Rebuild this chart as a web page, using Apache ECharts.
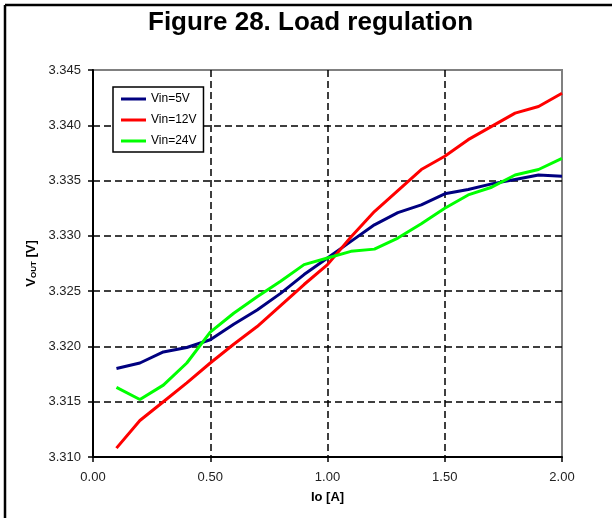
<!DOCTYPE html>
<html>
<head>
<meta charset="utf-8">
<script src="https://cdn.jsdelivr.net/npm/echarts@6/dist/echarts.min.js"></script>
<style>
  html, body { margin: 0; padding: 0; background: #fff; }
  #chart { width: 612px; height: 518px; }
</style>
</head>
<body>
<div id="chart"></div>
<script>
// load current (A)
const current = [0.1, 0.2, 0.3, 0.4, 0.5, 0.6, 0.7, 0.8, 0.9, 1.0,
                 1.1, 1.2, 1.3, 1.4, 1.5, 1.6, 1.7, 1.8, 1.9, 2.0]

// output voltage (V) per input voltage
const vin5 = [3.3180, 3.3185, 3.3195, 3.3199, 3.3206, 3.3220, 3.3233, 3.3248, 3.3265, 3.3280,
              3.3295, 3.3310, 3.3321, 3.3328, 3.3338, 3.3342, 3.3347, 3.3351, 3.3355, 3.3354]
const vin12 = [3.3108, 3.3133, 3.3150, 3.3167, 3.3185, 3.3202, 3.3218, 3.3237, 3.3256, 3.3274,
               3.3299, 3.3322, 3.3341, 3.3360, 3.3372, 3.3387, 3.3399, 3.3411, 3.3417, 3.3429]
const vin24 = [3.3163, 3.3152, 3.3165, 3.3185, 3.3213, 3.3230, 3.3245, 3.3259, 3.3274, 3.3280,
               3.3286, 3.3288, 3.3298, 3.3311, 3.3325, 3.3337, 3.3344, 3.3355, 3.3360, 3.3370]

const seriesNames = ['Vin=5V', 'Vin=12V', 'Vin=24V']
const seriesColors = ['#000080', '#ff0000', '#00ff00']

const chart = echarts.init(document.getElementById('chart'))

const font = 'Liberation Sans, Arial, sans-serif'
const gridLine = { show: true, showMaxLine: false, lineStyle: { color: '#000', width: 1.5, type: [7, 4] } }

function makeSeries(name, values, color) {
  return {
    name,
    type: 'line',
    symbol: 'none',
    data: current.map((x, i) => [x, values[i]]),
    lineStyle: { color, width: 3 },
    itemStyle: { color }
  }
}

chart.setOption({
  animation: false,
  backgroundColor: '#fff',
  title: {
    text: 'Figure 28. Load regulation',
    left: 148,
    top: 10,
    padding: 0,
    textStyle: { fontFamily: font, fontSize: 26, fontWeight: 'bold', color: '#000' }
  },
  graphic: [
    { type: 'line', shape: { x1: 5, y1: 5, x2: 612, y2: 5 }, style: { stroke: '#000', lineWidth: 2.5 } },
    { type: 'line', shape: { x1: 5, y1: 5, x2: 5, y2: 518 }, style: { stroke: '#000', lineWidth: 2.5 } }
  ],
  legend: {
    orient: 'vertical',
    left: 113,
    top: 87,
    padding: [5, 7, 4, 8],
    icon: 'rect',
    itemWidth: 25,
    itemHeight: 3,
    itemGap: 7,
    borderColor: '#000',
    borderWidth: 1.5,
    backgroundColor: '#fff',
    textStyle: { fontFamily: font, fontSize: 12, lineHeight: 14, color: '#000' },
    data: seriesNames
  },
  grid: {
    left: 93,
    right: 50,
    top: 70,
    bottom: 61,
    show: true,
    borderColor: '#808080',
    borderWidth: 2,
    backgroundColor: '#fff'
  },
  xAxis: {
    type: 'value',
    min: 0,
    max: 2,
    interval: 0.5,
    name: 'Io [A]',
    nameLocation: 'middle',
    nameGap: 34,
    nameTextStyle: { fontFamily: font, fontSize: 13, fontWeight: 'bold', color: '#000' },
    axisLine: { show: true, lineStyle: { color: '#000', width: 2 } },
    axisTick: { show: true, length: 5, lineStyle: { color: '#000', width: 1.5 } },
    axisLabel: { margin: 14, fontFamily: font, fontSize: 13, color: '#222', formatter: v => v.toFixed(2) },
    splitLine: gridLine
  },
  yAxis: {
    type: 'value',
    min: 3.310,
    max: 3.345,
    interval: 0.005,
    name: '{v|V}{s|OUT}{v| [V]}',
    nameLocation: 'middle',
    nameRotate: 90,
    nameGap: 50,
    nameTextStyle: {
      rich: {
        v: { fontFamily: font, fontSize: 13, fontWeight: 'bold', color: '#000', verticalAlign: 'bottom', lineHeight: 14 },
        s: { fontFamily: font, fontSize: 8, fontWeight: 'bold', color: '#000', verticalAlign: 'bottom', lineHeight: 10 }
      }
    },
    axisLine: { show: true, lineStyle: { color: '#000', width: 2 } },
    axisTick: { show: true, length: 5, lineStyle: { color: '#000', width: 1.5 } },
    axisLabel: { margin: 12, fontFamily: font, fontSize: 13, color: '#222', formatter: v => v.toFixed(3) },
    splitLine: gridLine
  },
  series: [
    makeSeries(seriesNames[0], vin5, seriesColors[0]),
    makeSeries(seriesNames[1], vin12, seriesColors[1]),
    makeSeries(seriesNames[2], vin24, seriesColors[2])
  ]
})
</script>
</body>
</html>
